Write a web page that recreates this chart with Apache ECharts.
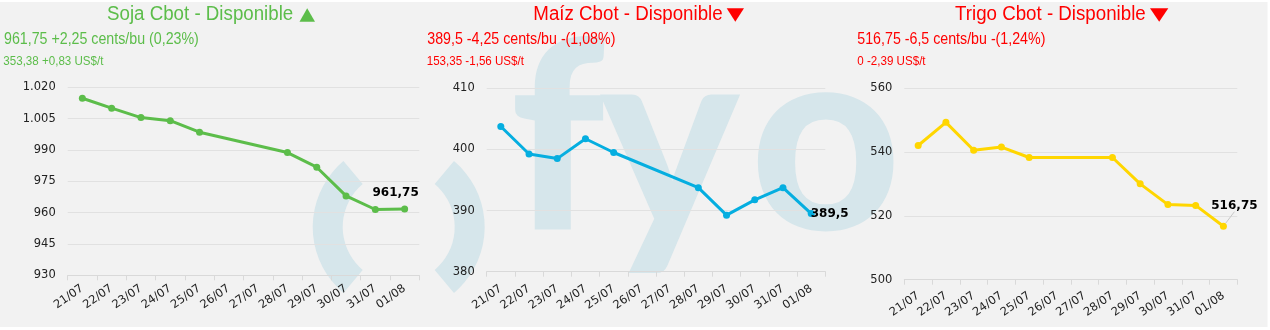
<!DOCTYPE html>
<html><head><meta charset="utf-8">
<script src="https://cdn.jsdelivr.net/npm/echarts@6/dist/echarts.min.js"></script>
<style>html,body{margin:0;padding:0;background:#fff;} #c{width:1270px;height:330px;}</style>
</head><body><div id="c"></div>
<script>
const categories = ['21/07','22/07','23/07','24/07','25/07','26/07','27/07','28/07','29/07','30/07','31/07','01/08'];
const sojaValues  = [1014.75, 1010, 1005.5, 1004, 998.5, null, null, 988.75, 981.75, 968, 961.5, 961.75];
const maizValues  = [403.75, 399.25, 398.5, 401.75, 399.5, null, null, 393.75, 389.25, 391.75, 393.75, 389.5];
const trigoValues = [542, 549.25, 540.5, 541.5, 538.25, null, null, 538.25, 530, 523.5, 523.25, 516.75];
const sojaAxis  = [930, 1020, 15];
const maizAxis  = [380, 410, 10];
const trigoAxis = [500, 560, 20];
const titles = ['Soja Cbot - Disponible', 'Maíz Cbot - Disponible', 'Trigo Cbot - Disponible'];
const trends = ['up', 'down', 'down'];
const priceLines = ['961,75 +2,25 cents/bu (0,23%)', '389,5 -4,25 cents/bu -(1,08%)', '516,75 -6,5 cents/bu -(1,24%)'];
const tonLines = ['353,38 +0,83 US$/t', '153,35 -1,56 US$/t', '0 -2,39 US$/t'];

const GREEN = '#5cbd4a', RED = '#ff0000';
const panels = [
  {values: sojaValues, axis: sojaAxis, color: '#5cbd4a', labelMargin: 12,
   grid: {left: 67.7, right: 850.7, top: 87.3, bottom: 54.7},
   label: {position: 'top', offset: [-9, -1.5]}, titleX: 107, lineX: 4, line2X: 3.3,
   tri: [[299.5, 21.7], [315, 21.7], [307.2, 8.3]]},
  {values: maizValues, axis: maizAxis, color: '#05aee0', labelMargin: 16,
   grid: {left: 486.7, right: 444.7, top: 88.3, bottom: 58.3},
   label: {position: 'right', distance: 0, offset: [-4, 0]}, titleX: 533.3, lineX: 427.3, line2X: 426.7,
   tri: [[726.7, 8.3], [744, 8.3], [735.3, 21.7]]},
  {values: trigoValues, axis: trigoAxis, color: '#ffd600', labelMargin: 15,
   grid: {left: 904.3, right: 32.7, top: 88, bottom: 50.3},
   label: {position: 'top'}, layout: {dx: 11, dy: -6}, titleX: 955, lineX: 857.3, line2X: 857.3,
   tri: [[1150, 8.3], [1168.3, 8.3], [1159.2, 21.7]]}
];

const fmtThousands = v => String(v).replace(/\B(?=(\d{3})+(?!\d))/g, '.');
const fmtDec = v => String(v).replace('.', ',');
const WM = '#d6e6eb';
const WMFONT = '900 262px Lato';

const graphic = [
  {type: 'rect', z: -10, silent: true, shape: {x: 0, y: 2, width: 1267.5, height: 325}, style: {fill: '#f2f2f2'}},
  {type: 'sector', z: -5, silent: true, shape: {cx: 398.7, cy: 227, r: 86, r0: 56, startAngle: 130 * Math.PI / 180, endAngle: 230 * Math.PI / 180}, style: {fill: WM}},
  {type: 'sector', z: -5, silent: true, shape: {cx: 398.7, cy: 227, r: 86, r0: 56, startAngle: -50 * Math.PI / 180, endAngle: 50 * Math.PI / 180}, style: {fill: WM}},
  {type: 'text', z: -5, silent: true, x: 510, y: 145, style: {text: 'f', font: WMFONT, fill: WM, textAlign: 'left', textVerticalAlign: 'middle'}},
  {type: 'text', z: -5, silent: true, x: 600, y: 145, style: {text: 'y', font: WMFONT, fill: WM, textAlign: 'left', textVerticalAlign: 'middle'}},
  {type: 'text', z: -5, silent: true, x: 750, y: 145, style: {text: 'o', font: WMFONT, fill: WM, textAlign: 'left', textVerticalAlign: 'middle'}}
];

panels.forEach((p, i) => {
  const col = trends[i] === 'up' ? GREEN : RED;
  graphic.push({type: 'text', x: p.titleX, y: 14.7, scaleX: 0.96, style: {text: titles[i], font: '19.5px "Liberation Sans"', fill: col, textAlign: 'left', textVerticalAlign: 'middle'}});
  graphic.push({type: 'polygon', shape: {points: p.tri}, style: {fill: col}});
  graphic.push({type: 'text', x: p.lineX, y: 40, scaleX: 0.9, style: {text: priceLines[i], font: '15.8px "Liberation Sans"', fill: col, textAlign: 'left', textVerticalAlign: 'middle'}});
  graphic.push({type: 'text', x: p.line2X, y: 61.2, scaleX: 0.92, style: {text: tonLines[i], font: '12.6px "Liberation Sans"', fill: col, textAlign: 'left', textVerticalAlign: 'middle'}});
});

const option = {
  animation: false,
  graphic: graphic,
  grid: panels.map(p => p.grid),
  xAxis: panels.map((p, i) => ({
    type: 'category', gridIndex: i, data: categories, boundaryGap: true,
    axisLine: {show: true, lineStyle: {color: '#d9d9d9', width: 1}},
    axisTick: {show: true, length: 5, alignWithLabel: false, interval: 0, lineStyle: {color: '#d9d9d9'}},
    axisLabel: {interval: 0, rotate: 35, margin: p.labelMargin, color: '#222', fontFamily: 'DejaVu Sans', fontSize: 11.5},
    splitLine: {show: false}
  })),
  yAxis: panels.map((p, i) => ({
    type: 'value', gridIndex: i, min: p.axis[0], max: p.axis[1], interval: p.axis[2],
    axisLine: {show: false}, axisTick: {show: false},
    axisLabel: {margin: 12, color: '#222', fontFamily: 'DejaVu Sans', fontSize: 11.5, formatter: fmtThousands},
    splitLine: {lineStyle: {color: '#e1e1e1', width: 1}}
  })),
  series: panels.map((p, i) => {
    const last = p.values.length - 1;
    const s = {
      type: 'line', xAxisIndex: i, yAxisIndex: i, connectNulls: true,
      symbol: 'circle', symbolSize: 7, showSymbol: true,
      lineStyle: {color: p.color, width: 3}, itemStyle: {color: p.color},
      data: p.values.map((v, j) => j === last ? {
        value: v,
        label: Object.assign({show: true, color: '#000', fontFamily: 'DejaVu Sans', fontWeight: 'bold', fontSize: 12, formatter: o => fmtDec(o.value)}, p.label)
      } : v)
    };
    if (p.layout) {
      s.labelLayout = p.layout;
      s.labelLine = {show: true, lineStyle: {color: '#c8c8c8', width: 1}};
    }
    return s;
  })
};
const chart = echarts.init(document.getElementById('c'), null, {renderer: 'canvas', width: 1270, height: 330});
chart.setOption(option);
</script></body></html>
